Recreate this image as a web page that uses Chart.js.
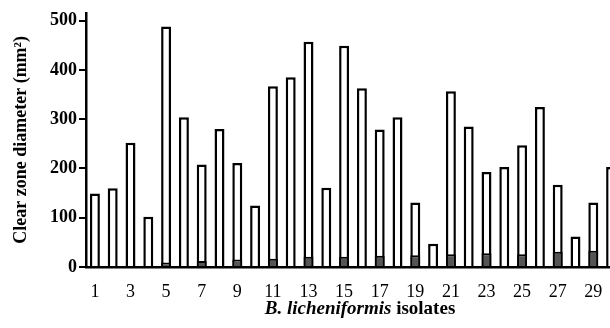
<!DOCTYPE html>
<html>
<head>
<meta charset="utf-8">
<script src="https://cdn.jsdelivr.net/npm/chart.js@4.4.1/dist/chart.umd.min.js"></script>
<style>
  html, body { margin: 0; padding: 0; background: #fff; overflow: hidden; }
  #wrap { width: 622px; height: 328px; }
</style>
</head>
<body>
<div id="wrap"><canvas id="c" width="622" height="328"></canvas></div>
<script>
const isolates = ['1','2','3','4','5','6','7','8','9','10','11','12','13','14','15','16','17','18','19','20','21','22','23','24','25','26','27','28','29','30'];
const clearZone = [149, 160, 252, 102, 488, 304, 208, 280, 211, 125, 367, 385, 457, 161, 449, 363, 279, 304, 131, 47, 357, 285, 193, 203, 247, 325, 167, 62, 131, 203];
const innerZone = [null, null, null, null, 9, null, 12, null, 15, null, 17, null, 21, null, 21, null, 23, null, 24, null, 26, null, 28, null, 26, null, 31, null, 33, null];
const yTicks = [0, 100, 200, 300, 400, 500];
const yTitle = 'Clear zone diameter (mm\u00B2)';
const xTitleItalic = 'B. licheniformis';
const xTitleRest = ' isolates';

const xTitlePlugin = {
  id: 'xTitle',
  afterDraw(chart) {
    const ctx = chart.ctx;
    const ca = chart.chartArea;
    ctx.save();
    ctx.fillStyle = '#000';
    ctx.textBaseline = 'middle';
    const f1 = 'italic bold 19px "Liberation Serif"';
    const f2 = 'bold 19px "Liberation Serif"';
    ctx.font = f1; const w1 = ctx.measureText(xTitleItalic).width;
    ctx.font = f2; const w2 = ctx.measureText(xTitleRest).width;
    const cx = (ca.left + ca.right) / 2 + 7;
    const x0 = cx - (w1 + w2) / 2;
    const y = 309;
    ctx.font = f1; ctx.textAlign = 'left'; ctx.fillText(xTitleItalic, x0, y);
    ctx.font = f2; ctx.fillText(xTitleRest, x0 + w1, y);
    ctx.restore();
  }
};

new Chart(document.getElementById('c'), {
  type: 'bar',
  data: {
    labels: isolates,
    datasets: [
      {
        label: 'inner',
        data: innerZone,
        backgroundColor: '#555555',
        borderColor: '#000',
        borderWidth: 2,
        grouped: false,
        categoryPercentage: 1,
        barPercentage: 0.56
      },
      {
        label: 'clear zone',
        data: clearZone,
        backgroundColor: '#ffffff',
        borderColor: '#000',
        borderWidth: 2.5,
        grouped: false,
        categoryPercentage: 1,
        barPercentage: 0.56
      }
    ]
  },
  options: {
    responsive: false,
    animation: false,
    layout: { padding: { top: 7, right: 2, left: 0, bottom: 0 } },
    plugins: { legend: { display: false }, tooltip: { enabled: false } },
    scales: {
      x: {
        grid: { display: false },
        border: { display: true, color: '#000', width: 2.5 },
        ticks: {
          autoSkip: false, maxRotation: 0, minRotation: 0, padding: 6,
          color: '#000',
          font: { family: 'Liberation Serif', size: 18 },
          callback: (v, i) => (i % 2 === 0 ? isolates[i] : '')
        },
        afterFit: (s) => { s.height = 61; }
      },
      y: {
        min: 0, max: 516,
        grid: { display: true, drawOnChartArea: false, drawTicks: true, tickLength: 7, color: '#000', lineWidth: 2 },
        border: { display: true, color: '#000', width: 2.5 },
        afterBuildTicks: (s) => { s.ticks = yTicks.map(v => ({ value: v })); },
        ticks: {
          padding: 2, color: '#000',
          font: { family: 'Liberation Serif', size: 18, weight: 'bold' }
        },
        title: {
          display: true, text: yTitle, color: '#000', padding: { top: 11, bottom: 4 },
          font: { family: 'Liberation Serif', size: 18, weight: 'bold' }
        },
        afterFit: (s) => { s.width = 86; }
      }
    }
  },
  plugins: [xTitlePlugin]
});
</script>
</body>
</html>
